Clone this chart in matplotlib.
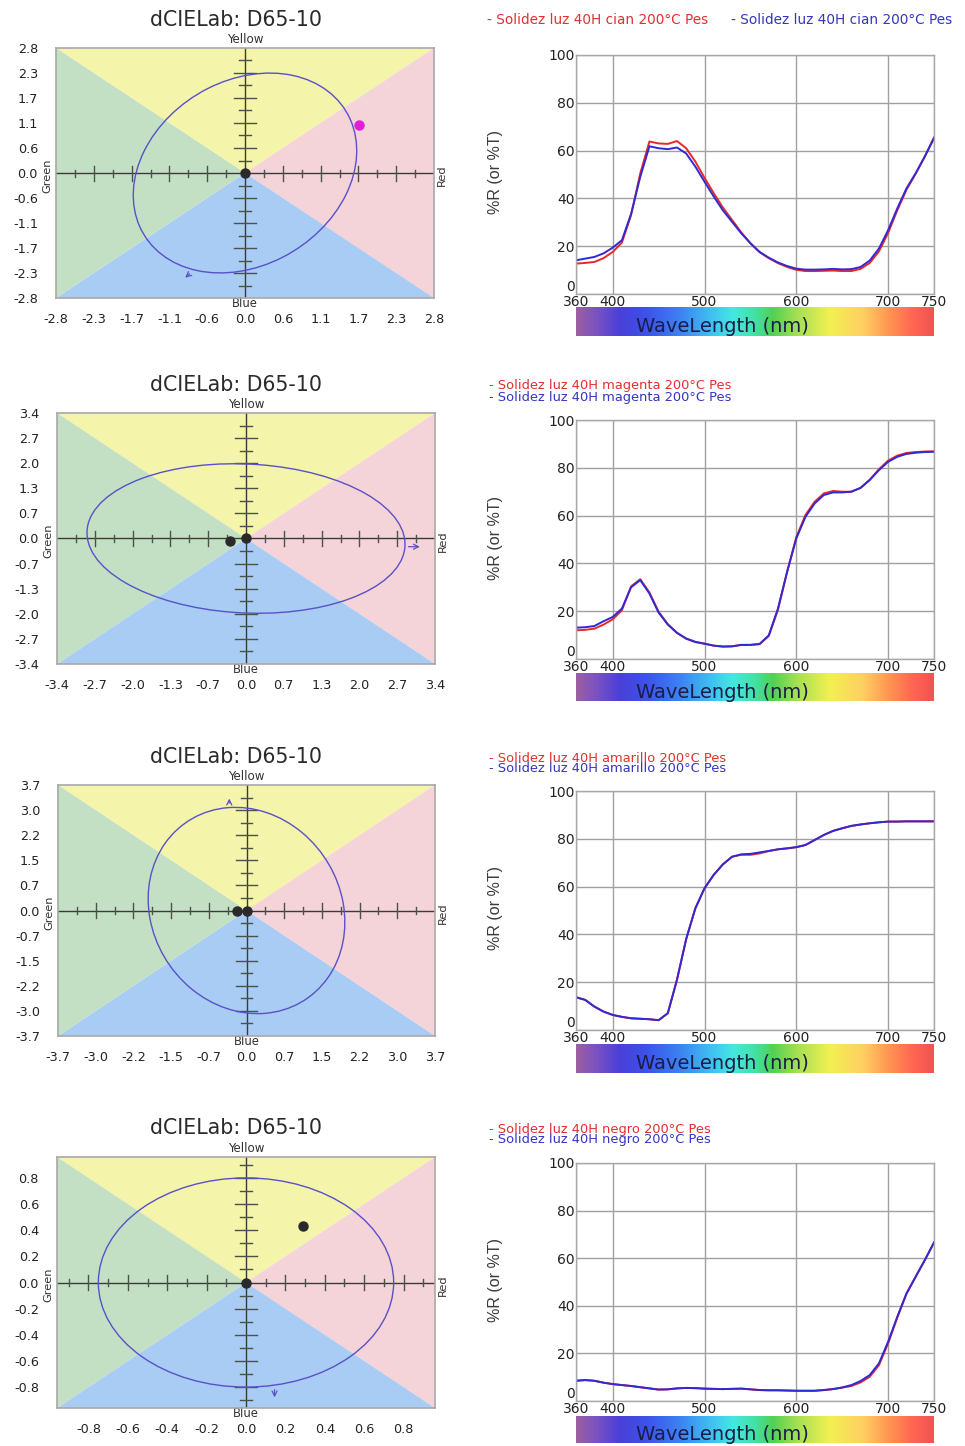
import numpy as np
import matplotlib.pyplot as plt
from matplotlib.patches import Polygon, Ellipse
from matplotlib.colors import LinearSegmentedColormap

# ---- spectral data (%R) every 10 nm ----
wl = np.arange(360, 751, 10)

cian_r = [12.7, 13.0, 13.4, 15.0, 17.6, 21.5, 33.0, 50.5, 63.8, 63.0,
          62.8, 64.0, 61.0, 55.4, 48.6, 42.2, 36.2, 31.0, 25.8, 21.3,
          17.5, 15.0, 12.9, 11.3, 10.1, 9.6, 9.6, 9.7, 9.8, 9.6,
          9.6, 10.5, 13.0, 17.8, 25.5, 35.0, 43.6, 50.3, 57.6, 65.5]
cian_b = [14.1, 14.8, 15.5, 17.0, 19.4, 22.5, 33.5, 49.0, 61.8, 61.0,
          60.6, 61.3, 58.8, 53.3, 47.0, 40.8, 35.0, 30.2, 25.4, 21.2,
          17.6, 15.2, 13.2, 11.7, 10.6, 10.2, 10.2, 10.3, 10.5, 10.3,
          10.4, 11.3, 14.0, 19.0, 26.7, 35.8, 44.2, 50.5, 57.5, 65.2]

magenta_r = [12.0, 12.2, 12.7, 14.4, 16.6, 20.4, 30.4, 33.4, 27.8, 19.8,
             14.6, 11.0, 8.6, 7.2, 6.4, 5.6, 5.2, 5.3, 5.9, 5.9,
             6.2, 9.6, 20.6, 36.5, 51.0, 60.3, 65.8, 69.3, 70.3, 70.0,
             70.0, 71.6, 75.0, 79.4, 83.0, 85.1, 86.2, 86.6, 86.8, 86.9]
magenta_b = [13.1, 13.3, 13.8, 15.8, 17.6, 21.1, 30.0, 33.0, 27.4, 19.4,
             14.4, 10.9, 8.5, 7.1, 6.4, 5.6, 5.2, 5.3, 5.9, 5.9,
             6.3, 9.9, 21.1, 36.5, 50.4, 59.5, 65.1, 68.6, 69.7, 69.7,
             70.0, 71.6, 74.9, 79.0, 82.5, 84.6, 85.8, 86.3, 86.6, 86.7]

amarillo_r = [13.7, 12.6, 9.8, 7.7, 6.3, 5.5, 4.9, 4.7, 4.5, 4.1,
              7.0, 21.0, 38.0, 50.9, 59.3, 64.9, 69.3, 72.5, 73.3, 73.3,
              73.9, 74.9, 75.6, 76.0, 76.5, 77.4, 79.5, 81.6, 83.3, 84.4,
              85.4, 86.0, 86.5, 86.9, 87.2, 87.2, 87.3, 87.3, 87.3, 87.3]
amarillo_b = [13.7, 12.6, 9.8, 7.7, 6.3, 5.5, 4.9, 4.7, 4.5, 4.1,
              7.0, 21.0, 38.0, 50.9, 59.3, 64.9, 69.3, 72.5, 73.5, 73.7,
              74.3, 74.9, 75.6, 76.0, 76.5, 77.4, 79.5, 81.6, 83.3, 84.4,
              85.4, 86.0, 86.5, 86.9, 87.2, 87.2, 87.3, 87.3, 87.3, 87.3]

negro_r = [8.5, 8.8, 8.5, 7.7, 7.1, 6.7, 6.3, 5.8, 5.3, 4.8,
           4.9, 5.3, 5.5, 5.4, 5.2, 5.1, 5.0, 5.1, 5.2, 4.9,
           4.6, 4.5, 4.5, 4.4, 4.3, 4.3, 4.3, 4.6, 5.0, 5.6,
           6.3, 7.8, 10.2, 15.0, 24.2, 35.0, 45.0, 52.2, 59.2, 66.6]
negro_b = [8.5, 8.8, 8.5, 7.7, 7.1, 6.7, 6.3, 5.8, 5.3, 4.8,
           4.9, 5.3, 5.5, 5.4, 5.2, 5.1, 5.0, 5.1, 5.2, 4.9,
           4.6, 4.5, 4.5, 4.4, 4.3, 4.3, 4.3, 4.6, 5.0, 5.7,
           6.7, 8.4, 10.9, 15.8, 24.9, 35.4, 45.2, 52.2, 59.2, 66.6]

legend_names = ["cian", "magenta", "amarillo", "negro"]
spectra_r = [cian_r, magenta_r, amarillo_r, negro_r]
spectra_b = [cian_b, magenta_b, amarillo_b, negro_b]

# ---- dCIELab panels ----
lab_lim = [2.84, 3.36, 3.72, 0.96]
lab_ticks = [np.linspace(-2.84, 2.84, 11), np.linspace(-3.36, 3.36, 11),
             np.linspace(-3.72, 3.72, 11), np.arange(-0.8, 0.81, 0.2)]
cross_step = [0.284, 0.336, 0.372, 0.1]
# tolerance ellipse: width, height, angle (data units)
ell_w = [4.66, 5.67, 6.14, 1.50]
ell_h = [3.19, 3.98, 3.84, 1.60]
ell_ang = [72.0, -6.1, 96.8, 0.0]
arrow_tail = [(-0.80, -2.25), (2.84, -0.22), (-0.34, 3.10), (0.145, -0.80)]
arrow_tip = [(-0.93, -2.42), (3.14, -0.22), (-0.34, 3.40), (0.145, -0.90)]
sample_x = [1.72, -0.29, -0.18, 0.29]
sample_y = [1.09, -0.07, 0.0, 0.43]
sample_col = ["#e020d8", "#2a2a2a", "#2a2a2a", "#2a2a2a"]

W, H = 965, 1446
fig = plt.figure(figsize=(W / 100, H / 100), dpi=100)
plt.rcParams['font.family'] = 'DejaVu Sans'


def box(x0, y0, x1, y1):
    return [x0 / W, 1 - y1 / H, (x1 - x0) / W, (y1 - y0) / H]


lab_boxes = [(56, 48, 434, 298), (57, 413, 435, 664), (58, 785, 435, 1036), (57, 1157, 435, 1408)]
spec_boxes = [(576, 55, 934, 294), (576, 420, 934, 659), (576, 791, 934, 1030), (576, 1163, 934, 1401)]
bar_boxes = [(576, 307, 934, 336), (576, 673, 934, 701), (576, 1044, 934, 1073), (576, 1416, 934, 1443)]
title_y = [20, 385, 757, 1128]

spec_cmap = LinearSegmentedColormap.from_list("spec", [
    (0.0, "#9c60a2"), (0.056, "#7a52c2"), (0.121, "#4a40d8"), (0.196, "#3c52ea"),
    (0.289, "#3c82f2"), (0.383, "#40c4f0"), (0.438, "#44e8e0"), (0.504, "#44e0a0"),
    (0.55, "#52d052"), (0.616, "#a2e052"), (0.709, "#f2f052"), (0.802, "#ffd062"),
    (0.877, "#ff9452"), (0.942, "#ff6652"), (1.0, "#f25252")])

quad_col = {"top": "#f4f4aa", "right": "#f4d4d8", "bottom": "#a8ccf4", "left": "#c4e0c4"}

for i in range(4):
    lim = lab_lim[i]
    ax = fig.add_axes(box(*lab_boxes[i]))
    ax.set_xlim(-lim, lim)
    ax.set_ylim(-lim, lim)
    tris = {"top": [(0, 1), (1, 1), (0.5, 0.5)], "right": [(1, 1), (1, 0), (0.5, 0.5)],
            "bottom": [(0, 0), (1, 0), (0.5, 0.5)], "left": [(0, 0), (0, 1), (0.5, 0.5)]}
    for k, pts in tris.items():
        ax.add_patch(Polygon(pts, closed=True, transform=ax.transAxes,
                             facecolor=quad_col[k], edgecolor="none", zorder=0))
    # crosshair with ticks
    ax.axhline(0, color="#3a3a3a", lw=1.0, zorder=2)
    ax.axvline(0, color="#3a3a3a", lw=1.0, zorder=2)
    py = lim / 125.0
    px = lim / 189.0
    for k in range(-9, 10):
        if k == 0:
            continue
        v = k * cross_step[i]
        big = (k % 2 == 0)
        ly = (7.5 if big else 3.5) * py
        lx = (11 if big else 6) * px
        ax.plot([v, v], [-ly, ly], color="#4a524a", lw=1.0, zorder=2)
        ax.plot([-lx, lx], [v, v], color="#4a524a", lw=1.0, zorder=2)
    ax.add_patch(Ellipse((0, 0), ell_w[i], ell_h[i], angle=ell_ang[i],
                         facecolor="none", edgecolor="#5a50c8", lw=1.0, zorder=3))
    ax.annotate("", xy=arrow_tip[i], xytext=arrow_tail[i],
                arrowprops=dict(arrowstyle="->", color="#5a50c8", lw=0.9, mutation_scale=9),
                zorder=3)
    ax.plot([0], [0], "o", color="#2a2a2a", ms=6.5, zorder=4)
    ax.plot([sample_x[i]], [sample_y[i]], "o", color=sample_col[i], ms=6.5, zorder=4)

    ticks = lab_ticks[i]
    labels = ["%.1f" % (0.0 if abs(t) < 1e-9 else t) for t in ticks]
    ax.set_xticks(ticks)
    ax.set_xticklabels(labels)
    ax.set_yticks(ticks)
    ax.set_yticklabels(labels)
    ax.tick_params(axis="x", length=0, pad=10.5, labelsize=9.2, colors="#222222")
    ax.tick_params(axis="y", length=0, pad=13, labelsize=9.2, colors="#222222")
    for s in ax.spines.values():
        s.set_color("#a8a8a8")
        s.set_linewidth(1.2)
        s.set_zorder(5)
    ax.text(0.5, 1.006, "Yellow", transform=ax.transAxes, ha="center", va="bottom",
            fontsize=8.6, color="#333333")
    ax.text(0.5, -0.022, "Blue", transform=ax.transAxes, ha="center", va="center",
            fontsize=8.4, color="#333333")
    ax.text(-0.022, 0.49, "Green", transform=ax.transAxes, ha="center", va="center",
            rotation=90, fontsize=8.2, color="#333333")
    ax.text(1.021, 0.49, "Red", transform=ax.transAxes, ha="center", va="center",
            rotation=90, fontsize=8.2, color="#333333")
    fig.text(236 / W, 1 - title_y[i] / H, "dCIELab: D65-10", ha="center", va="center",
             fontsize=14.8, color="#2a2a2a")

    # spectral reflectance
    sx = fig.add_axes(box(*spec_boxes[i]))
    sx.plot(wl, spectra_r[i], color="#e82828", lw=1.4)
    sx.plot(wl, spectra_b[i], color="#3228d4", lw=1.4)
    sx.set_xlim(360, 750)
    sx.set_ylim(0, 100)
    sx.set_xticks([360, 400, 500, 600, 700, 750])
    sx.set_yticks([0, 20, 40, 60, 80, 100])
    sx.grid(True, color="#a0a0a0", lw=1.0)
    sx.set_axisbelow(True)
    sx.tick_params(length=0, labelsize=10, colors="#222222")
    sx.tick_params(axis="x", pad=1)
    sx.tick_params(axis="y", pad=1)
    sx.get_yticklabels()[0].set_va("bottom")
    for s in sx.spines.values():
        s.set_color("#a8a8a8")
        s.set_linewidth(1.0)
    mid = (spec_boxes[i][1] + spec_boxes[i][3]) / 2
    fig.text(495 / W, 1 - (mid - 2) / H, "%R (or %T)", rotation=90, ha="center", va="center",
             fontsize=11.5, color="#3a3a3a", family="Liberation Sans")

    # wavelength colour bar
    cb = fig.add_axes(box(*bar_boxes[i]))
    cb.imshow(np.linspace(0, 1, 256).reshape(1, -1), aspect="auto", cmap=spec_cmap,
              extent=[0, 1, 0, 1])
    cb.set_xlim(0, 1)
    cb.set_ylim(0, 1)
    cb.axis("off")
    cb.text(0.41, 0.32, "WaveLength (nm)", ha="center", va="center", fontsize=14,
            color="#1c1c4a")

    # legend lines
    name = legend_names[i]
    red_txt = "- Solidez luz 40H %s 200°C Pes" % name
    blue_txt = "- Solidez luz 40H %s 200°C Pes" % name
    if i == 0:
        fig.text(487 / W, 1 - 20 / H, red_txt, color="#e03030", fontsize=9.8, va="center")
        fig.text(731 / W, 1 - 20 / H, blue_txt, color="#3535c0", fontsize=9.8, va="center")
    else:
        fig.text(489 / W, 1 - (title_y[i] + 1) / H, red_txt, color="#e03030", fontsize=9.4, va="center")
        fig.text(489 / W, 1 - (title_y[i] + 12) / H, blue_txt, color="#3535c0", fontsize=9.4, va="center")

fig.savefig("out.png", dpi=100, facecolor="white")
